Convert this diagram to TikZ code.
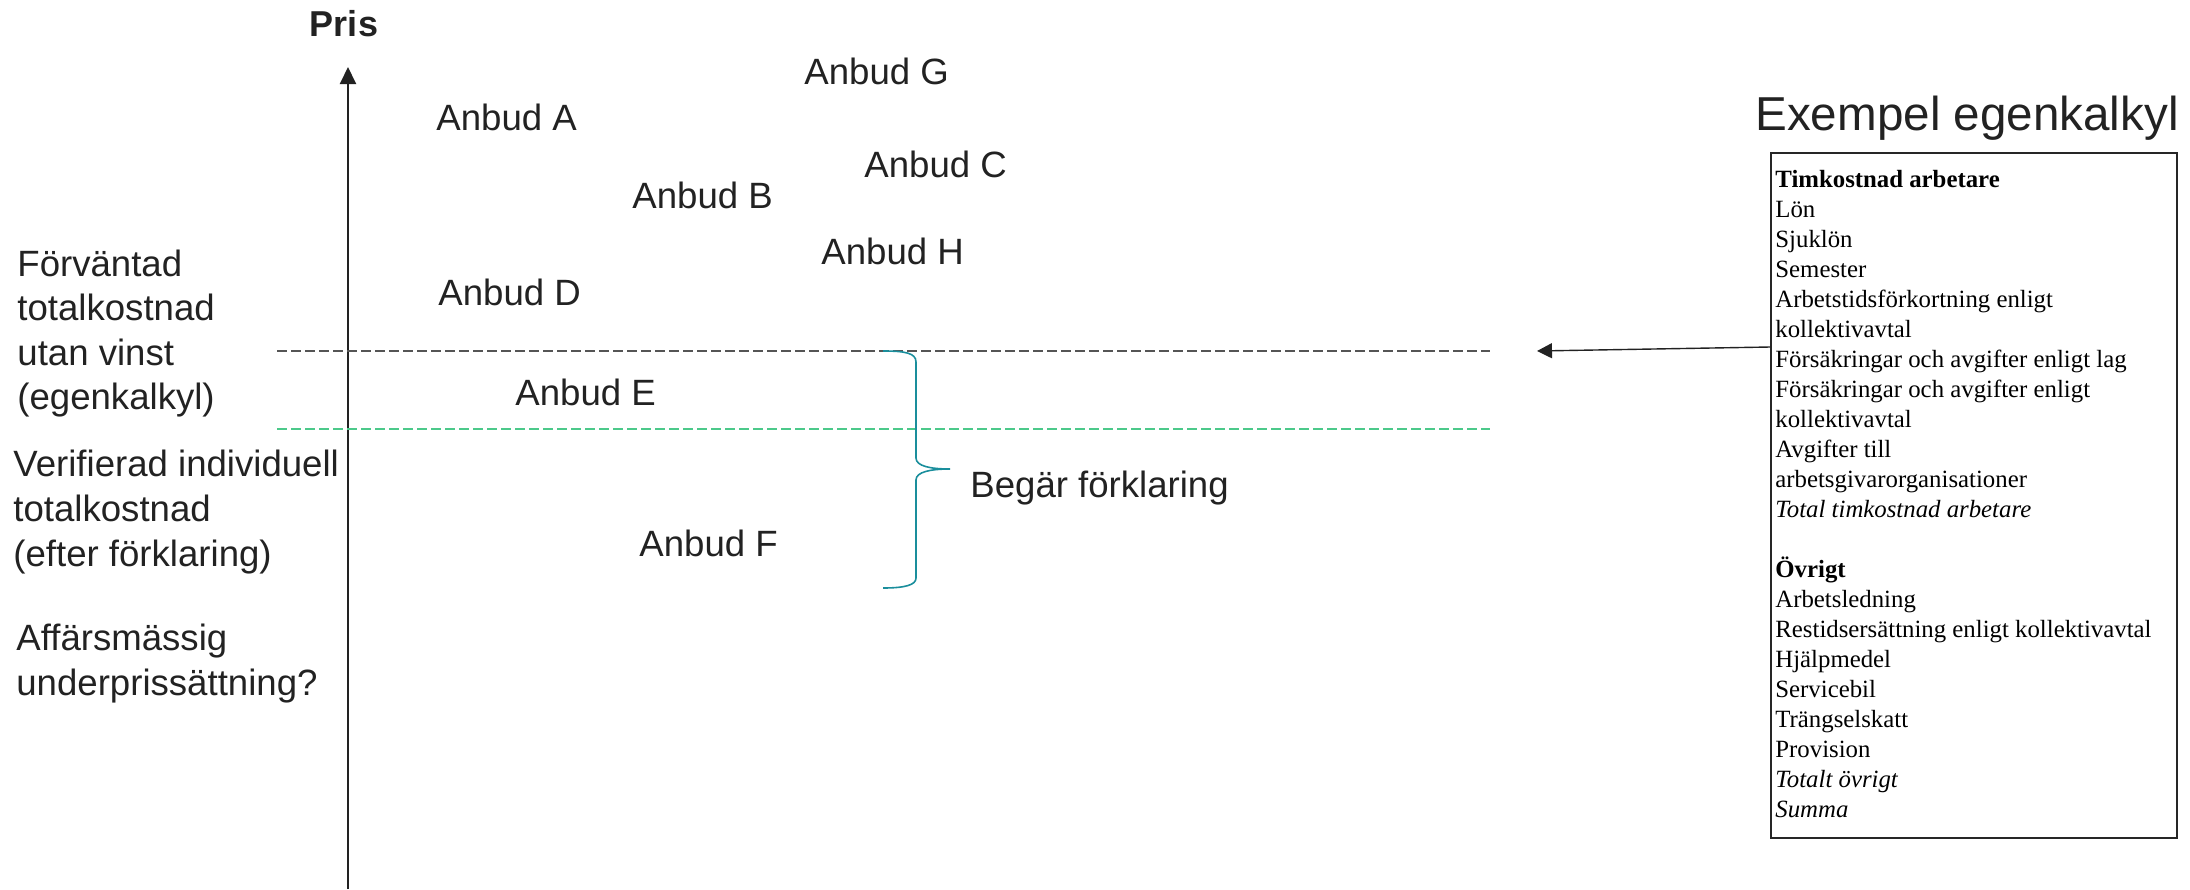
\documentclass[tikz,border=0pt]{standalone}
\usepackage{fontspec}
\setmainfont{Liberation Sans}
\newfontfamily\calcfont{Liberation Serif}
\usetikzlibrary{arrows.meta}
\definecolor{ink}{HTML}{222222}
\definecolor{refline}{HTML}{555555}
\definecolor{verline}{HTML}{4CC98A}
\definecolor{bracecol}{HTML}{1A8E9C}

\begin{document}
\begin{tikzpicture}[x=0.5pt,y=-0.5pt,
  lbl/.style={anchor=base west, inner sep=0pt, text=ink, font=\fontsize{18.3}{22}\selectfont},
  calcline/.style={anchor=base west, inner sep=0pt, text=black, font=\calcfont\fontsize{12.4}{15}\selectfont},
  levelline/.style={line width=1pt, dash pattern=on 4.75pt off 2.25pt}]
\useasboundingbox (0,0) rectangle (2190,889);

% price axis
\coordinate (axbot) at (348,889);
\coordinate (axtop) at (348,67);
\draw[line width=1pt, ink, -{Triangle[length=8.5pt,width=8pt]}] (axbot) -- (axtop);
\node[anchor=base, inner sep=0pt, text=ink, font=\fontsize{18}{22}\selectfont\bfseries] (pris) at (344,36) {Pris};

% cost levels
\coordinate (lvlAw) at (277,351);
\coordinate (lvlAe) at (1490,351);
\coordinate (lvlBw) at (277,429);
\coordinate (lvlBe) at (1490,429);
\draw[levelline, refline] (lvlAw) -- (lvlAe);
\draw[levelline, verline] (lvlBw) -- (lvlBe);

% level labels
\node[lbl] (f1) at (17,276) {Förväntad};
\node[lbl] (f2) at (17,320.5) {totalkostnad};
\node[lbl] (f3) at (17,365) {utan vinst};
\node[lbl] (f4) at (17,409) {(egenkalkyl)};
\node[lbl] (v1) at (13,476) {Verifierad individuell};
\node[lbl] (v2) at (13,521) {totalkostnad};
\node[lbl] (v3) at (13,566) {(efter förklaring)};
\node[lbl] (a1) at (16,650) {Affärsmässig};
\node[lbl] (a2) at (16,695) {underprissättning?};

% tenders
\node[lbl] (anbA) at (436,130) {Anbud A};
\node[lbl] (anbG) at (804,84) {Anbud G};
\node[lbl] (anbC) at (864,177) {Anbud C};
\node[lbl] (anbB) at (632,208) {Anbud B};
\node[lbl] (anbH) at (821,264) {Anbud H};
\node[lbl] (anbD) at (438,305) {Anbud D};
\node[lbl] (anbE) at (515,405) {Anbud E};
\node[lbl] (anbF) at (639,556) {Anbud F};

% brace for the explanation range
\draw[bracecol, line width=0.8pt]
  (883,351) .. controls (905,351) and (916,353) .. (916,362) -- (916,458)
  .. controls (916,466) and (930,469) .. (950,469)
  .. controls (930,469) and (916,472) .. (916,480) -- (916,578)
  .. controls (916,585) and (905,588) .. (883,588);
\node[lbl] (begar) at (970,497) {Begär förklaring};

% example calculation
\node[anchor=base west, inner sep=0pt, text=ink, font=\fontsize{23.8}{28}\selectfont] (extitle) at (1755,130) {Exempel egenkalkyl};
\node[draw=black!85, line width=0.8pt, minimum width=203pt, minimum height=342.5pt, inner sep=0pt] (calcbox) at (1974,495.5) {};
\coordinate (ptr) at (1537,351);
\draw[line width=0.7pt, ink, -{Triangle[length=7.5pt,width=7.5pt]}] ([yshift=74.25pt]calcbox.west) -- (ptr);

\foreach \t [count=\i from 0] in {
  {\bfseries Timkostnad arbetare}, Lön, Sjuklön, Semester,
  Arbetstidsförkortning enligt, kollektivavtal,
  Försäkringar och avgifter enligt lag,
  Försäkringar och avgifter enligt, kollektivavtal,
  Avgifter till, arbetsgivarorganisationer,
  {\itshape Total timkostnad arbetare}}
  \node[calcline] (ca\i) at (1775,187+30*\i) {\t};

\foreach \t [count=\i from 0] in {
  {\bfseries Övrigt}, Arbetsledning,
  Restidsersättning enligt kollektivavtal,
  Hjälpmedel, Servicebil, Trängselskatt, Provision,
  {\itshape Totalt övrigt}, {\itshape Summa}}
  \node[calcline] (cb\i) at (1775,577+30*\i) {\t};
\end{tikzpicture}
\end{document}
